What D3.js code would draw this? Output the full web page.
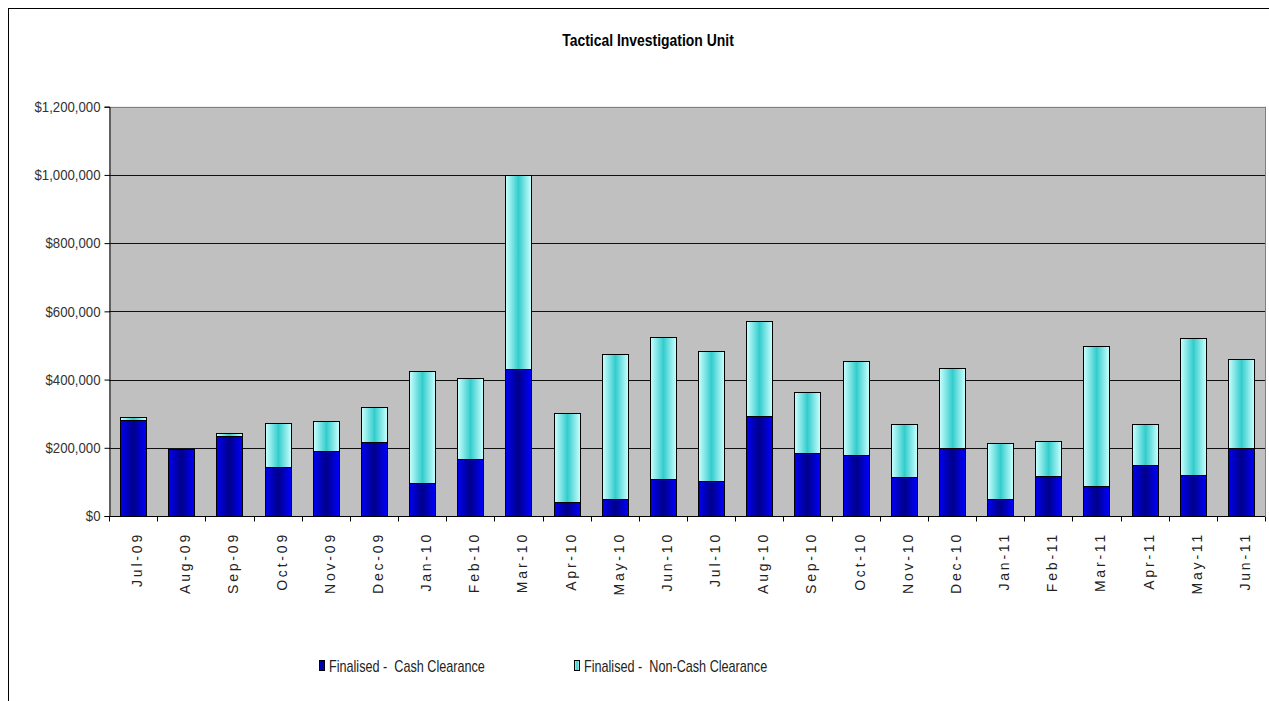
<!DOCTYPE html>
<html>
<head>
  <meta http-equiv="Content-Type" content="text/html;charset=utf-8">
  <title>Tactical Investigation Unit</title>
  <script src="https://d3js.org/d3.v7.min.js"></script>
  <style type="text/css">
    body { margin: 0; background: #fff; }
    text { font-family: "Liberation Sans", Arial, sans-serif; }
  </style>
</head>
<body>
  <svg width="1269" height="701"></svg>
  <script type='text/javascript'>
    const months = ['Jul-09', 'Aug-09', 'Sep-09', 'Oct-09', 'Nov-09', 'Dec-09', 'Jan-10', 'Feb-10',
      'Mar-10', 'Apr-10', 'May-10', 'Jun-10', 'Jul-10', 'Aug-10', 'Sep-10', 'Oct-10', 'Nov-10',
      'Dec-10', 'Jan-11', 'Feb-11', 'Mar-11', 'Apr-11', 'May-11', 'Jun-11'];
    const cash = [281000, 196000, 235000, 145000, 191000, 216000, 96000, 166000, 431000, 41000,
      50000, 108000, 104000, 294000, 186000, 179000, 115000, 198000, 49000, 116000, 88000,
      150000, 120000, 199000];
    const nonCash = [10000, 0, 7000, 129000, 87000, 104000, 330000, 240000, 569000, 261000,
      426000, 418000, 381000, 278000, 179000, 276000, 155000, 237000, 166000, 104000, 409000,
      119000, 402000, 260000];
    const yTicks = [0, 200000, 400000, 600000, 800000, 1000000, 1200000];
    const seriesNames = ['Finalised -  Cash Clearance', 'Finalised -  Non-Cash Clearance'];

    const svg = d3.select('svg');
    const plotL = 109, plotR = 1265, plotT = 106.7, plotB = 516;

    // gradients
    const defs = svg.append('defs');
    const gBlue = defs.append('linearGradient').attr('id', 'gBlue');
    gBlue.append('stop').attr('offset', '0%').attr('stop-color', '#0000f0');
    gBlue.append('stop').attr('offset', '50%').attr('stop-color', '#00008a');
    gBlue.append('stop').attr('offset', '100%').attr('stop-color', '#0000ff');
    const gCyan = defs.append('linearGradient').attr('id', 'gCyan');
    gCyan.append('stop').attr('offset', '0%').attr('stop-color', '#ccffff');
    gCyan.append('stop').attr('offset', '50%').attr('stop-color', '#33cccc');
    gCyan.append('stop').attr('offset', '100%').attr('stop-color', '#ccffff');
    const fills = ['url(#gBlue)', 'url(#gCyan)'];

    // outer chart border
    svg.append('rect')
      .attr('x', 8.5).attr('y', 8.5).attr('width', 1270).attr('height', 700)
      .attr('fill', 'none').attr('stroke', '#000').attr('stroke-width', 1);

    // title (narrow look via horizontal scale)
    svg.append('text')
      .attr('transform', 'translate(648,46) scale(0.82,1)')
      .attr('text-anchor', 'middle')
      .attr('font-size', 17).attr('font-weight', 'bold')
      .text('Tactical Investigation Unit');

    const x = d3.scaleBand().domain(months).range([plotL, plotR])
      .paddingInner(0.46).paddingOuter(0.23);
    const y = d3.scaleLinear().domain([0, 1200000]).range([plotB, plotT]);

    svg.append('rect')
      .attr('x', plotL).attr('y', plotT).attr('width', plotR - plotL).attr('height', plotB - plotT)
      .attr('fill', '#c0c0c0');

    // gridlines
    svg.append('g').selectAll('line')
      .data(yTicks.filter(d => d > 0 && d < 1200000))
      .enter().append('line')
        .attr('x1', plotL).attr('x2', plotR)
        .attr('y1', d => Math.round(y(d)) + 0.5).attr('y2', d => Math.round(y(d)) + 0.5)
        .attr('stroke', '#111');
    svg.append('line')
      .attr('x1', plotL).attr('x2', plotR)
      .attr('y1', Math.round(plotT) + 0.5).attr('y2', Math.round(plotT) + 0.5)
      .attr('stroke', '#808080');
    svg.append('line')
      .attr('x1', plotR + 0.5).attr('x2', plotR + 0.5)
      .attr('y1', plotT).attr('y2', plotB)
      .attr('stroke', '#808080');

    // stacked bars
    const rows = months.map((m, i) => ({ month: m, cash: cash[i], nonCash: nonCash[i] }));
    const stack = d3.stack().keys(['cash', 'nonCash'])(rows);
    svg.append('g').selectAll('g')
      .data(stack)
      .enter().append('g')
        .attr('fill', (s, i) => fills[i])
      .selectAll('rect')
      .data(s => s.filter(d => d[1] > d[0]))
      .enter().append('rect')
        .attr('x', d => Math.round(x(d.data.month)) + 0.5)
        .attr('y', d => Math.round(y(d[1])) + 0.5)
        .attr('width', Math.round(x.bandwidth()))
        .attr('height', d => Math.round(y(d[0])) - Math.round(y(d[1])))
        .attr('stroke', '#000').attr('stroke-width', 1);

    // y axis
    const yAxis = d3.axisLeft(y).tickValues(yTicks).tickSize(5)
      .tickFormat(d => '$' + d3.format(',')(d));
    const gy = svg.append('g').attr('transform', `translate(${plotL + 0.5},0)`).call(yAxis);
    gy.select('.domain').attr('stroke', '#000');
    gy.selectAll('.tick line').attr('stroke', '#000');
    gy.selectAll('.tick text')
      .attr('font-size', 15).attr('fill', '#333').attr('x', 0)
      .attr('font-family', '"Liberation Sans", Arial, sans-serif')
      .attr('transform', 'translate(-9,0) scale(0.88,1)');

    // x axis with ticks at category boundaries
    const gx = svg.append('g').attr('transform', `translate(0,${Math.round(plotB) + 0.5})`);
    gx.append('line').attr('x1', plotL).attr('x2', plotR).attr('stroke', '#000');
    gx.selectAll('line.tk')
      .data(d3.range(months.length + 1))
      .enter().append('line').attr('class', 'tk')
        .attr('x1', i => Math.round(plotL + i * (plotR - plotL) / months.length) + 0.5)
        .attr('x2', i => Math.round(plotL + i * (plotR - plotL) / months.length) + 0.5)
        .attr('y1', 0).attr('y2', 5)
        .attr('stroke', '#000');
    gx.selectAll('text')
      .data(months)
      .enter().append('text')
        .attr('transform', d => `translate(${x(d) + x.bandwidth() / 2 + 9},15.5) rotate(-90)`)
        .attr('text-anchor', 'end')
        .attr('font-size', 14)
        .attr('letter-spacing', 2.8)
        .attr('fill', '#222')
        .text(d => d);

    // legend
    const legendX = [319, 574];
    const lg = svg.append('g').selectAll('g')
      .data(seriesNames)
      .enter().append('g')
        .attr('transform', (d, i) => `translate(${legendX[i]},660)`);
    lg.append('rect')
      .attr('x', 0.5).attr('y', 0.5)
      .attr('width', 5).attr('height', 10)
      .attr('fill', (d, i) => fills[i]).attr('stroke', '#000');
    lg.append('text')
      .attr('transform', 'translate(10,11.5) scale(0.79,1)')
      .attr('font-size', 16).attr('fill', '#222')
      .attr('xml:space', 'preserve')
      .style('white-space', 'pre')
      .text(d => d);
  </script>
</body>
</html>
